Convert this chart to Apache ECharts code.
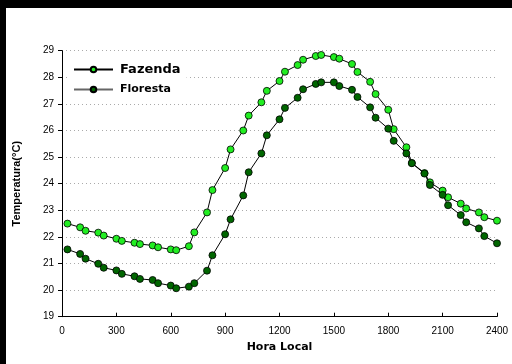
<!DOCTYPE html>
<html>
<head>
<meta charset="utf-8">
<script src="https://cdn.jsdelivr.net/npm/echarts@6/dist/echarts.min.js"></script>
<style>html,body{margin:0;padding:0;background:#fff}#c{width:512px;height:364px}</style>
</head>
<body>
<div id="c"></div>
<script>
var hours = [30,100,130,200,230,300,330,400,430,500,530,600,630,700,730,800,830,900,930,1000,1030,1100,1130,1200,1230,1300,1330,1400,1430,1500,1530,1600,1630,1700,1730,1800,1830,1900,1930,2000,2030,2100,2130,2200,2230,2300,2330,2400];
var fazenda = [22.50,22.36,22.23,22.16,22.05,21.93,21.85,21.78,21.73,21.68,21.61,21.53,21.50,21.65,22.17,22.92,23.76,24.59,25.29,26.00,26.56,27.06,27.49,27.86,28.21,28.46,28.66,28.80,28.84,28.76,28.70,28.50,28.20,27.83,27.37,26.78,26.05,25.37,24.78,24.40,24.05,23.74,23.49,23.25,23.07,22.92,22.74,22.61];
var floresta = [21.53,21.36,21.18,20.99,20.84,20.74,20.61,20.52,20.42,20.38,20.26,20.17,20.07,20.13,20.26,20.73,21.31,22.10,22.66,23.56,24.43,25.14,25.82,26.42,26.85,27.23,27.55,27.75,27.81,27.81,27.67,27.53,27.26,26.87,26.48,26.07,25.61,25.14,24.77,24.38,23.95,23.58,23.19,22.82,22.55,22.32,22.03,21.76];
var xTicks = {min:0, max:2400, interval:300};
var yTicks = {min:19, max:29, interval:1};

function pairs(xs, ys){ return xs.map(function(x,i){return [x, ys[i]];}); }

var chart = echarts.init(document.getElementById('c'), null, {renderer:'canvas'});
var font = 'Liberation Sans, Arial, sans-serif';
var bold = 'DejaVu Sans, Liberation Sans, sans-serif';
chart.setOption({
  animation:false,
  backgroundColor:'#fff',
  textStyle:{fontFamily:font},
  grid:{left:62, right:15, top:50.7, bottom:47.3, containLabel:false},
  graphic:[
    {type:'rect', left:0, top:0, shape:{width:512, height:8}, style:{fill:'#000'}, z:100},
    {type:'rect', left:0, top:0, shape:{width:6, height:364}, style:{fill:'#000'}, z:100}
  ],
  legend:{
    left:70, top:61, orient:'vertical', itemWidth:39, itemHeight:7, itemGap:8,
    backgroundColor:'#fff', padding:[2,6,2,3],
    textStyle:{fontFamily:bold, fontWeight:'bold', color:'#000', fontSize:11, padding:[0,0,0,2]},
    data:[
      {name:'Fazenda', textStyle:{fontSize:13, fontWeight:'bold'}},
      {name:'Floresta', lineStyle:{color:'#666'}}
    ]
  },
  xAxis:{
    type:'value', min:xTicks.min, max:xTicks.max, interval:xTicks.interval,
    name:'Hora Local', nameLocation:'middle', nameGap:23,
    nameTextStyle:{fontFamily:bold, fontWeight:'bold', fontSize:11, color:'#000'},
    axisLine:{lineStyle:{color:'#000', width:1}},
    axisTick:{show:true, inside:true, length:4, lineStyle:{color:'#000'}},
    axisLabel:{fontFamily:font, fontSize:10, color:'#000', margin:10, formatter:function(v){return String(v);}},
    splitLine:{show:false}
  },
  yAxis:{
    type:'value', min:yTicks.min, max:yTicks.max, interval:yTicks.interval,
    name:'Temperatura(°C)', nameLocation:'middle', nameGap:40, nameRotate:90,
    nameTextStyle:{fontFamily:font, fontWeight:'bold', fontSize:11, color:'#000'},
    axisLine:{show:true, lineStyle:{color:'#000', width:1}},
    axisTick:{show:true, inside:false, length:4, lineStyle:{color:'#000'}},
    axisLabel:{fontFamily:font, fontSize:10, color:'#000', margin:8},
    splitLine:{show:true, lineStyle:{color:'#aaa', type:[1,3], width:1}}
  },
  series:[
    {name:'Fazenda', type:'line', data:pairs(hours,fazenda), symbol:'circle', symbolSize:7,
     itemStyle:{color:'#22ee22', borderColor:'#000', borderWidth:0.8},
     lineStyle:{color:'#000', width:1}, z:2},
    {name:'Floresta', type:'line', data:pairs(hours,floresta), symbol:'circle', symbolSize:7,
     itemStyle:{color:'#006600', borderColor:'#000', borderWidth:0.8},
     lineStyle:{color:'#000', width:1}, z:3}
  ]
});
</script>
</body>
</html>
